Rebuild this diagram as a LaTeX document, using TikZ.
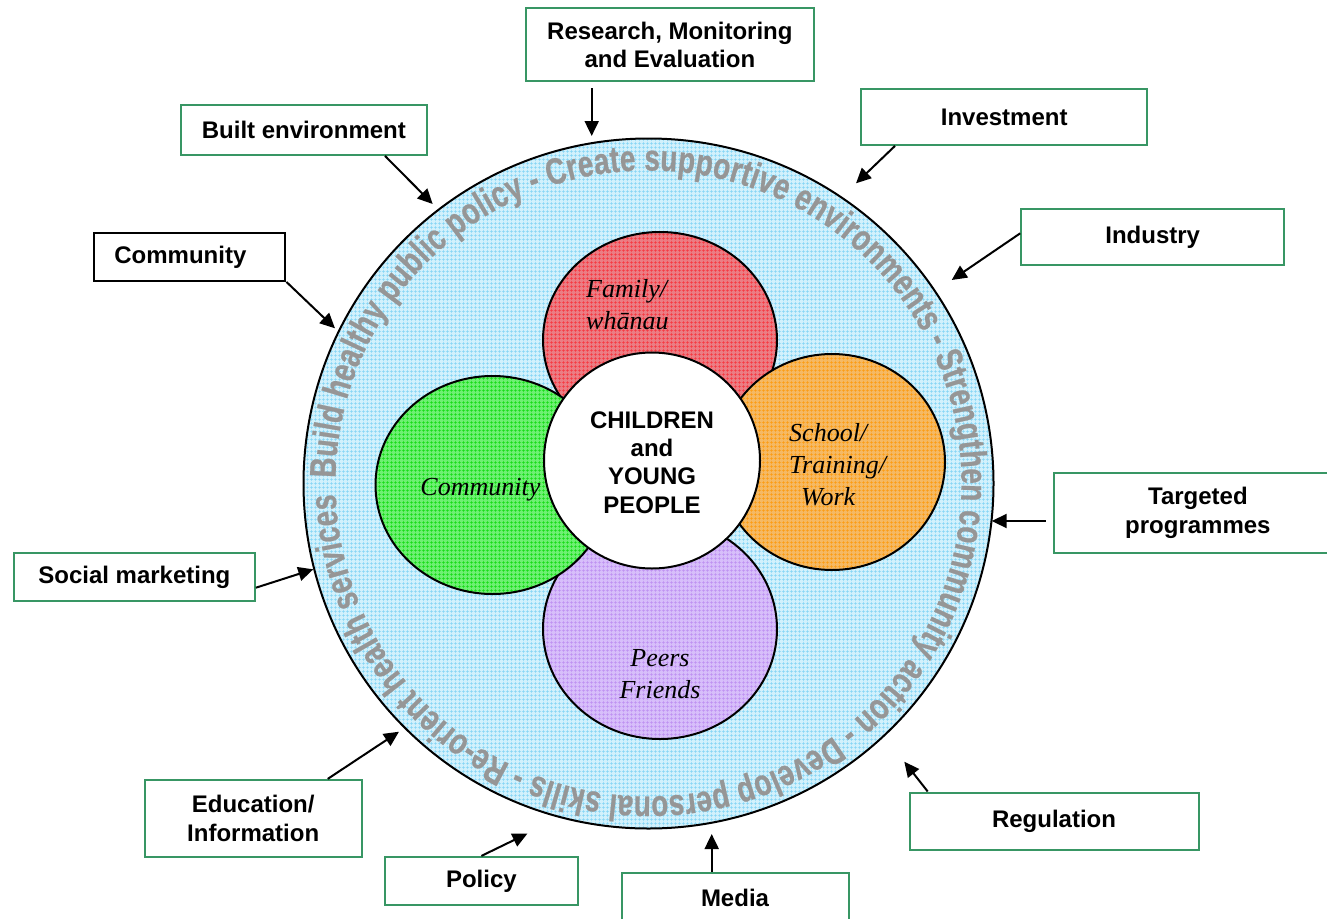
\documentclass[tikz,border=0pt]{standalone}
\usepackage{fontspec}
\setmainfont{Liberation Sans}
\newfontfamily\petalfont{Liberation Serif}
\newfontfamily\ringface{Liberation Sans Bold}[FakeStretch=0.755, FakeBold=0.6]
\newcommand{\ringfont}{\ringface\fontsize{37}{37}\selectfont}
\usetikzlibrary{arrows.meta, patterns.meta, decorations.text}
\definecolor{boxgreen}{RGB}{56, 150, 100}
\definecolor{ringgray}{RGB}{150, 150, 150}
\definecolor{ringfill}{RGB}{210, 241, 252}
\definecolor{ringdot}{RGB}{130, 212, 245}
\definecolor{famfill}{RGB}{235, 125, 132}
\definecolor{famgrid}{RGB}{250, 40, 50}
\definecolor{schfill}{RGB}{245, 185, 100}
\definecolor{schgrid}{RGB}{255, 150, 0}
\definecolor{comfill}{RGB}{110, 240, 115}
\definecolor{comgrid}{RGB}{0, 215, 0}
\definecolor{peerfill}{RGB}{215, 190, 250}
\definecolor{peergrid}{RGB}{185, 135, 240}

\tikzset{
  outbox/.style={draw=boxgreen, line width=2pt, fill=white, inner sep=0pt, align=center,
    font=\bfseries\fontsize{24}{28.3}\selectfont},
  link/.style={-{Triangle[length=15pt, width=14pt]}, line width=2pt},
  petal/.style 2 args={draw=black, line width=2pt, fill opacity=0.85, preaction={fill=#1},
    pattern={Hatch[angle=0, distance=4pt, line width=0.6pt]}, pattern color=#2},
  petaltext/.style={font=\petalfont\itshape\fontsize{26}{32}\selectfont, inner sep=0pt, align=left}
}

\begin{document}
\begin{tikzpicture}[x=1pt, y=-1pt]
  \useasboundingbox (0,0) rectangle (1327,918);

  % Outer ring with the action areas
  \coordinate (ctr) at (648.5,483.5);
  \path[draw, line width=2pt, preaction={fill=ringfill}, pattern={Hatch[angle=0, distance=4pt, line width=0.8pt]}, pattern color=ringdot] (ctr) circle[radius=345];
  \path[decorate, decoration={text along path, text color=ringgray, text align={fit to path},
      text={|\ringfont|Build healthy public policy - Create supportive environments - Strengthen community action - Develop personal skills - Re-orient health services}}]
    (ctr) ++(181:313) arc[start angle=181, end angle=538, radius=313];

  % Petals
  \path[petal={famfill}{famgrid}] (660,340) ellipse[x radius=117, y radius=108];
  \path[petal={peerfill}{peergrid}] (660,629) ellipse[x radius=117, y radius=110];
  \path[petal={comfill}{comgrid}] (492.5,485) ellipse[x radius=117, y radius=109];
  \path[petal={schfill}{schgrid}] (832,462) ellipse[x radius=113, y radius=108];

  % Centre
  \path[draw, line width=2pt, fill=white] (652,460.5) circle[radius=108];
  \node[font=\bfseries\fontsize{24}{28.3}\selectfont, align=center, inner sep=0pt] (kids) at (652,462.3) {CHILDREN\\and\\YOUNG\\PEOPLE};

  \node[petaltext, anchor=west] (famtext) at (586,305) {Family/\\whānau};
  \node[petaltext, anchor=base] (comtext) at (480.4,495) {Community};
  \node[petaltext, anchor=west] (schtext) at (789,465) {School/\\Training/\\\hspace*{12pt}Work};
  \node[petaltext, align=center] (peertext) at (660,674) {Peers\\Friends};

  % Outside boxes
  \node[outbox, minimum width=288pt, minimum height=73pt] (research) at (669.9,44.7) {Research, Monitoring\\and Evaluation};
  \node[outbox, minimum width=246pt, minimum height=50pt] (built) at (303.9,129.9) {Built environment};
  \node[outbox, minimum width=286pt, minimum height=56pt] (invest) at (1004.2,116.9) {Investment};
  \node[outbox, minimum width=263pt, minimum height=56pt] (industry) at (1152.7,236.9) {Industry};
  \node[outbox, draw=black, align=left, text width=151pt, inner xsep=20pt, minimum height=48pt] (commbox) at (189.9,256.9) {Community};
  \node[outbox, minimum width=288pt, minimum height=80pt] (target) at (1197.9,512.9) {Targeted\\programmes};
  \node[outbox, minimum width=241pt, minimum height=48pt] (social) at (134.4,576.9) {Social marketing};
  \node[outbox, minimum width=217pt, minimum height=77pt] (educ) at (253.2,818.4) {Education/\\Information};
  \node[outbox, minimum width=193pt, minimum height=48pt] (policy) at (481.4,880.9) {Policy};
  \node[outbox, minimum width=227pt, minimum height=50pt] (media) at (735,897.9) {Media};
  \node[outbox, minimum width=289pt, minimum height=57pt] (regul) at (1054,821) {Regulation};

  % Arrow tips on the ring
  \coordinate (tResearch) at (591.7,136);
  \coordinate (tBuilt) at (432.7,204);
  \coordinate (tInvest) at (856,183.3);
  \coordinate (tIndustry) at (951.7,280);
  \coordinate (tComm) at (335,328.3);
  \coordinate (tTarget) at (991.7,521);
  \coordinate (tSocial) at (313.3,569.3);
  \coordinate (tEduc) at (399,731.7);
  \coordinate (tPolicy) at (527.5,833.5);
  \coordinate (tMedia) at (711.7,834);
  \coordinate (tRegul) at (904.3,761.7);

  \draw[link, shorten <=6pt] ([xshift=-78.2pt]research.south) -- (tResearch);
  \draw[link] ([xshift=81.1pt]built.south) -- (tBuilt);
  \draw[link] ([xshift=-109.2pt]invest.south) -- (tInvest);
  \draw[link] ([yshift=3.6pt]industry.west) -- (tIndustry);
  \draw[link] (commbox.south east) -- (tComm);
  \draw[link, shorten <=7pt] ([yshift=-8.1pt]target.west) -- (tTarget);
  \draw[link] ([yshift=-10.8pt]social.east) -- (tSocial);
  \draw[link] ([xshift=74.5pt]educ.north) -- (tEduc);
  \draw[link] (policy.north) -- (tPolicy);
  \draw[link] ([xshift=-23.3pt]media.north) -- (tMedia);
  \draw[link] ([xshift=-126.3pt]regul.north) -- (tRegul);
\end{tikzpicture}
\end{document}
